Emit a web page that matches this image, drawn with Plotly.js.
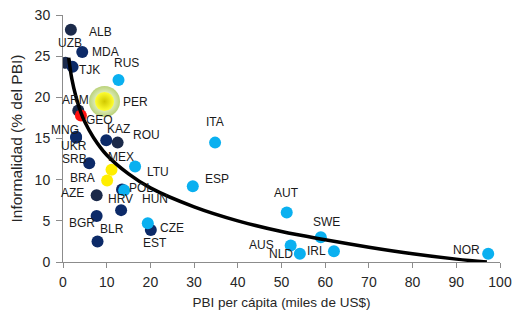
<!DOCTYPE html>
<html>
<head>
<meta charset="utf-8">
<script src="https://cdn.plot.ly/plotly-3.0.1.min.js"></script>
<style>html,body{margin:0;padding:0;background:#fff;}#chart{width:513px;height:321px;}</style>
</head>
<body>
<div id="chart"></div>
<script>
// ---- data ----
const countries = ['ALB','UZB','MDA','TJK','RUS','PER','ARM','GEO','MNG','UKR','KAZ','ROU','SRB','MEX','LTU','BRA','AZE','HUN','POL','HRV','BGR','BLR','EST','CZE','ITA','ESP','AUT','SWE','AUS','NLD','IRL','NOR'];
const gdpPerCapita = [1.8,0.6,4.4,2.2,12.7,9.5,3.5,4.1,3.0,3.0,9.9,12.5,6.0,11.1,16.5,10.1,7.7,13.5,14.0,13.3,7.7,7.9,20.1,19.4,34.8,29.7,51.2,59.0,52.1,54.2,62.0,97.3];
const informality = [28.2,24.2,25.5,23.7,22.1,19.5,18.4,17.8,15.2,15.1,14.8,14.5,12.0,11.2,11.6,9.9,8.1,8.8,8.7,6.3,5.6,2.5,3.9,4.7,14.5,9.2,6.0,3.0,2.0,1.0,1.3,1.0];
const group = ['dark','dark','navy','navy','light','peru','dark','geo','navy','navy','navy','dark','navy','latam','light','latam','dark','navy','light','navy','navy','navy','navy','light','light','light','light','light','light','light','light','light'];
// trend line
const trendX = [1.3,2,3,4,5,7,10,15,20,30,40,50,60,70,80,90,97];
const trendY = [24.8,22.3,20.0,18.3,17.0,15.1,13.0,10.7,9.0,6.7,5.0,3.7,2.7,1.8,1.0,0.35,0.0];
const xTickVals = [0,10,20,30,40,50,60,70,80,90,100];
const yTickVals = [0,5,10,15,20,25,30];

// ---- styles ----
const groupColors = {dark:'#1b2a4a', navy:'#0c2a68', light:'#0ab0f0', latam:'#ffee00', geo:'#ff1010', peru:'#ffff00'};
const drawOrder = ['dark','navy','light','latam','geo'];
// label offsets in pixels (dx, dy) relative to the point
const labelOffsets = {
  ALB:[30,2], UZB:[4,-20], MDA:[23,0], TJK:[17,3], RUS:[8,-17], PER:[31,1], ARM:[-3,-11], GEO:[19,5],
  MNG:[-11,-7], UKR:[-2,8], KAZ:[12,-11], ROU:[29,-8], SRB:[-15,-4], MEX:[9,-13], LTU:[23,6],
  BRA:[-25,-2], AZE:[-24,-2], HUN:[33,9], POL:[17,-2], HRV:[-1,-11], BGR:[-15,7], BLR:[14,-12],
  EST:[4,13], CZE:[24,5], ITA:[0,-21], ESP:[24,-7], AUT:[0,-20], SWE:[6,-15], AUS:[-29,-1],
  NLD:[-19,0], IRL:[-17,0], NOR:[-22,-4]
};

const traces = [];
drawOrder.forEach(g => {
  const xs = [], ys = [];
  group.forEach((gg, i) => { if (gg === g) { xs.push(gdpPerCapita[i]); ys.push(informality[i]); } });
  traces.push({x: xs, y: ys, type: 'scatter', mode: 'markers', hoverinfo: 'skip',
    marker: {size: 12, color: groupColors[g], line: {width: 0}}});
});
// Peru highlighted: glow + shaded sphere
const pi = group.indexOf('peru');
traces.push({x:[gdpPerCapita[pi]], y:[informality[pi]], type:'scatter', mode:'markers', hoverinfo:'skip',
  marker:{size:31, color:'rgba(140,180,30,0.6)', gradient:{type:'radial', color:'rgba(170,210,80,0)'}, line:{width:0}}});
traces.push({x:[gdpPerCapita[pi]], y:[informality[pi]], type:'scatter', mode:'markers', hoverinfo:'skip',
  marker:{size:19, color:'#ffff30', gradient:{type:'radial', color:'#d0c800'}, line:{width:0}}});
// trend line
traces.push({x: trendX, y: trendY, type:'scatter', mode:'lines', hoverinfo:'skip',
  line:{color:'#000000', width:3.5, shape:'spline', smoothing:1}});

const annotations = countries.map((c, i) => ({
  x: gdpPerCapita[i], y: informality[i], xref:'x', yref:'y', text: c, showarrow: true,
  arrowcolor:'rgba(0,0,0,0)', arrowwidth:0.1, ax: labelOffsets[c][0], ay: labelOffsets[c][1],
  borderpad: 0,
  font:{family:'Liberation Sans, Arial, sans-serif', size:12, color:'#1a1a1a'}
}));

const layout = {
  width: 513, height: 321,
  margin: {l: 63, r: 13, t: 15, b: 59},
  paper_bgcolor: '#ffffff', plot_bgcolor: '#ffffff',
  showlegend: false,
  font: {family: 'Liberation Sans, Arial, sans-serif', color: '#262626', size: 13},
  xaxis: {range: [0, 100], tickvals: xTickVals, ticks: 'outside', ticklen: 5, tickcolor: '#8c8c8c',
    showline: true, linecolor: '#8c8c8c', linewidth: 1, showgrid: false, zeroline: false,
    ticklabelstandoff: 2,
    tickfont: {size: 14, color: '#262626'},
    title: {text: 'PBI per cápita (miles de US$)', font: {size: 13.5, color: '#262626'}, standoff: 8}},
  yaxis: {range: [0, 30], tickvals: yTickVals, ticks: 'outside', ticklen: 6, tickcolor: '#8c8c8c',
    showline: true, linecolor: '#8c8c8c', linewidth: 1, showgrid: false, zeroline: false,
    ticklabelstandoff: 3,
    tickfont: {size: 14, color: '#262626'},
    title: {text: 'Informalidad (% del PBI)', font: {size: 15.5, color: '#262626'}, standoff: 8}},
  annotations: annotations
};

Plotly.newPlot('chart', traces, layout, {staticPlot: true, displayModeBar: false});
</script>
</body>
</html>
